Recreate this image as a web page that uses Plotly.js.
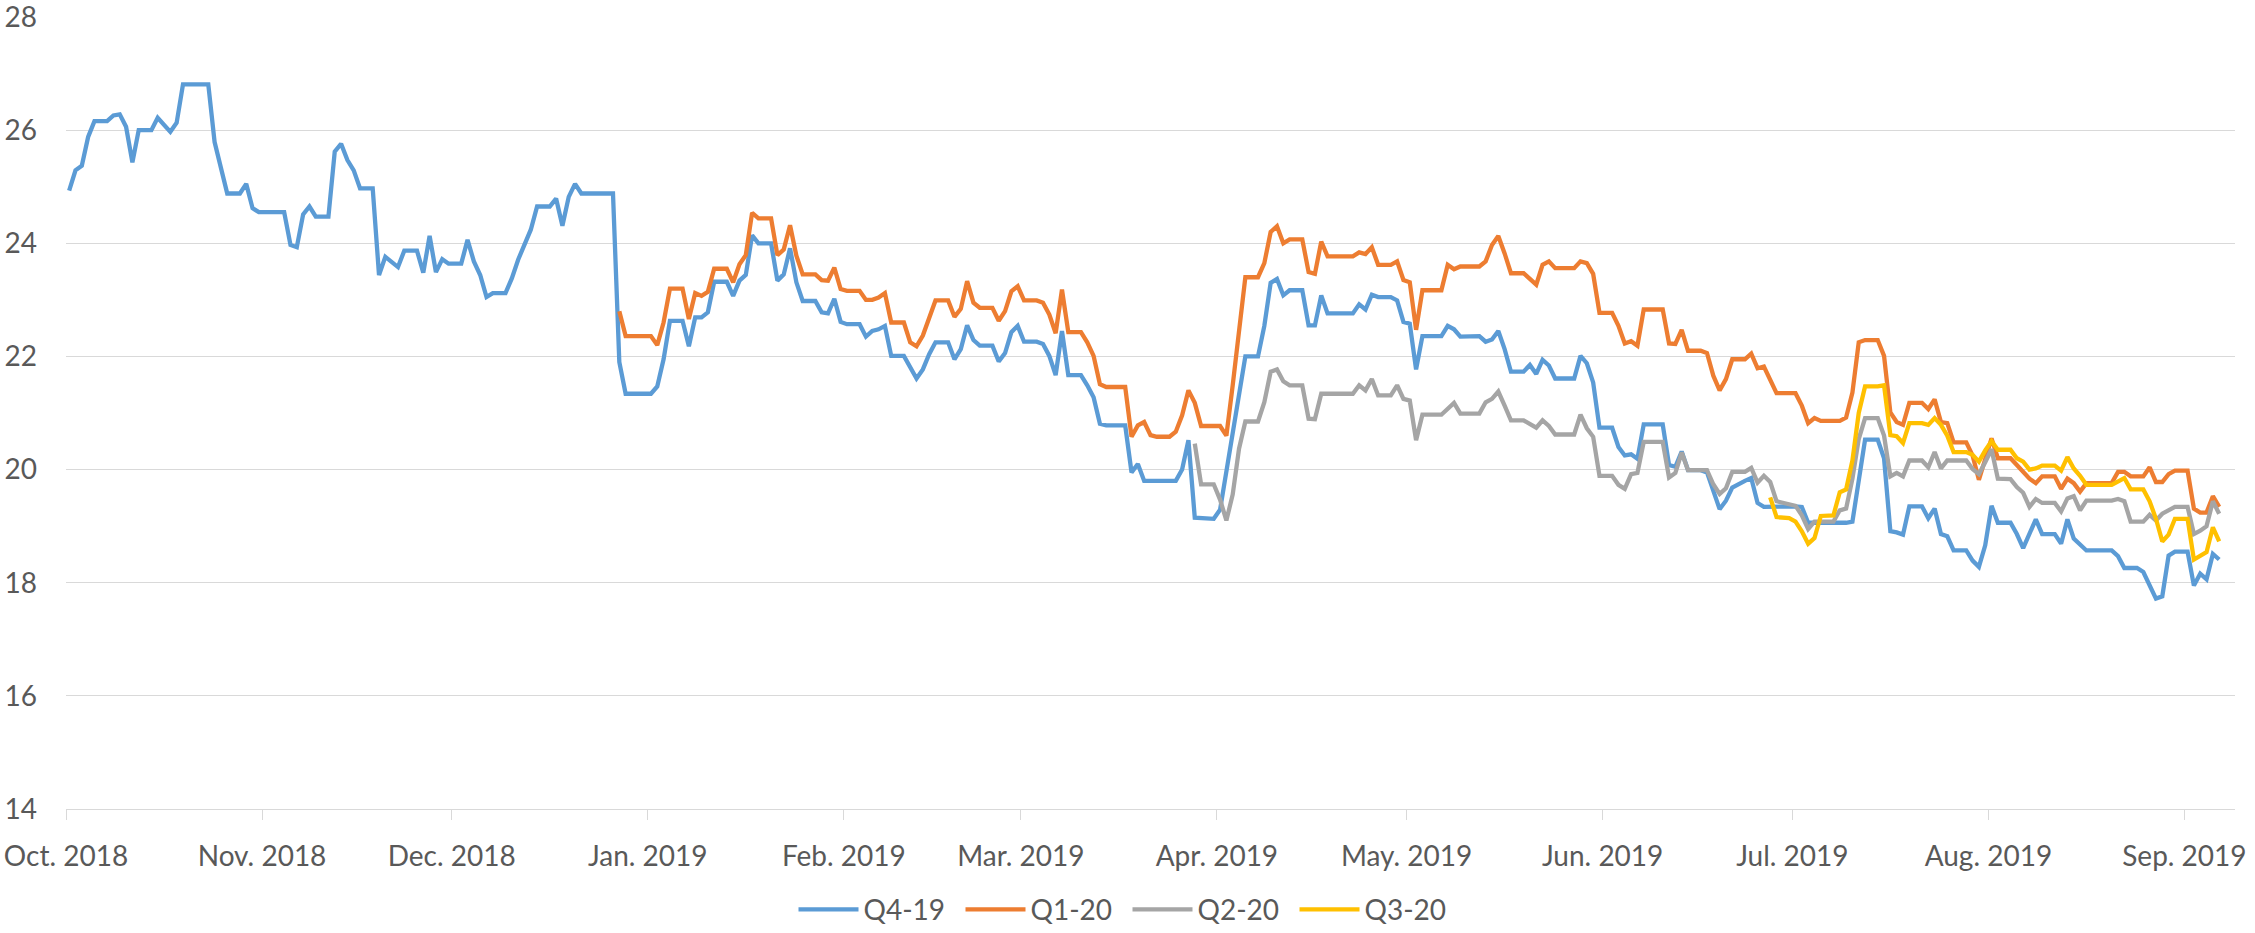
<!DOCTYPE html>
<html>
<head>
<meta charset="utf-8">
<script src="https://cdn.plot.ly/plotly-3.0.1.min.js"></script>
<style>html,body{margin:0;padding:0;background:#fff;}#chart{width:2255px;height:933px;}</style>
</head>
<body>
<div id="chart"></div>
<script>
const seriesNames = ['Q4-19', 'Q1-20', 'Q2-20', 'Q3-20'];

const q4Dates = [
'2018-10-01','2018-10-02','2018-10-03','2018-10-04','2018-10-05','2018-10-07','2018-10-08','2018-10-09','2018-10-10','2018-10-11','2018-10-12','2018-10-14','2018-10-15','2018-10-17','2018-10-18','2018-10-19','2018-10-23','2018-10-24','2018-10-26','2018-10-28','2018-10-29','2018-10-30','2018-10-31',
'2018-11-04','2018-11-05','2018-11-06','2018-11-07','2018-11-08','2018-11-09','2018-11-11','2018-11-12','2018-11-13','2018-11-14','2018-11-15','2018-11-16','2018-11-18','2018-11-19','2018-11-20','2018-11-22','2018-11-23','2018-11-25','2018-11-26','2018-11-27','2018-11-28','2018-11-29','2018-11-30',
'2018-12-02','2018-12-03','2018-12-04','2018-12-05','2018-12-06','2018-12-07','2018-12-09','2018-12-10','2018-12-11','2018-12-12','2018-12-13','2018-12-14','2018-12-16','2018-12-17','2018-12-18','2018-12-19','2018-12-20','2018-12-21','2018-12-26','2018-12-27','2018-12-28',
'2019-01-01','2019-01-02','2019-01-03','2019-01-04','2019-01-06','2019-01-07','2019-01-08','2019-01-09','2019-01-10','2019-01-11','2019-01-13','2019-01-14','2019-01-15','2019-01-16','2019-01-17','2019-01-18','2019-01-20','2019-01-21','2019-01-22','2019-01-23','2019-01-24','2019-01-25','2019-01-27','2019-01-28','2019-01-29','2019-01-30','2019-01-31',
'2019-02-01','2019-02-03','2019-02-04','2019-02-05','2019-02-06','2019-02-07','2019-02-08','2019-02-10','2019-02-11','2019-02-12','2019-02-13','2019-02-14','2019-02-15','2019-02-17','2019-02-18','2019-02-19','2019-02-20','2019-02-21','2019-02-22','2019-02-24','2019-02-25','2019-02-26','2019-02-27','2019-02-28',
'2019-03-01','2019-03-03','2019-03-04','2019-03-05','2019-03-06','2019-03-07','2019-03-08','2019-03-10','2019-03-11','2019-03-12','2019-03-13','2019-03-14','2019-03-17','2019-03-18','2019-03-19','2019-03-20','2019-03-25','2019-03-26','2019-03-27','2019-03-28','2019-03-31',
'2019-04-01','2019-04-05','2019-04-07','2019-04-08','2019-04-09','2019-04-10','2019-04-11','2019-04-12','2019-04-14','2019-04-15','2019-04-16','2019-04-17','2019-04-18','2019-04-22','2019-04-23','2019-04-24','2019-04-25','2019-04-26','2019-04-28','2019-04-29','2019-04-30',
'2019-05-01','2019-05-02','2019-05-03','2019-05-06','2019-05-07','2019-05-08','2019-05-09','2019-05-12','2019-05-13','2019-05-14','2019-05-15','2019-05-16','2019-05-17','2019-05-19','2019-05-20','2019-05-21','2019-05-22','2019-05-23','2019-05-24','2019-05-27','2019-05-28','2019-05-29','2019-05-30','2019-05-31',
'2019-06-02','2019-06-03','2019-06-04','2019-06-05','2019-06-06','2019-06-07','2019-06-10','2019-06-11','2019-06-12','2019-06-13','2019-06-14','2019-06-16','2019-06-17','2019-06-18','2019-06-19','2019-06-20','2019-06-21','2019-06-23','2019-06-24','2019-06-25','2019-06-26',
'2019-07-01','2019-07-02','2019-07-03','2019-07-09','2019-07-10','2019-07-11','2019-07-12','2019-07-14','2019-07-15','2019-07-16','2019-07-17','2019-07-18','2019-07-19','2019-07-21','2019-07-22','2019-07-23','2019-07-24','2019-07-25','2019-07-26','2019-07-28','2019-07-29','2019-07-30','2019-07-31',
'2019-08-01','2019-08-02','2019-08-04','2019-08-05','2019-08-06','2019-08-07','2019-08-08','2019-08-09','2019-08-11','2019-08-12','2019-08-13','2019-08-14','2019-08-15','2019-08-16','2019-08-20','2019-08-21','2019-08-22','2019-08-24','2019-08-25','2019-08-27','2019-08-28','2019-08-29','2019-08-30',
'2019-09-01','2019-09-02','2019-09-03','2019-09-04','2019-09-05','2019-09-06'
];
const q4Values = [
24.93,25.29,25.37,25.88,26.16,26.16,26.26,26.28,26.06,25.43,26.00,26.00,26.22,25.97,26.13,26.81,26.81,25.79,24.88,24.88,25.05,24.62,24.55,
24.55,23.97,23.93,24.51,24.65,24.47,24.47,25.62,25.76,25.47,25.29,24.97,24.97,23.44,23.76,23.58,23.87,23.87,23.48,24.13,23.49,23.72,23.64,
23.64,24.06,23.68,23.44,23.05,23.12,23.12,23.38,23.71,24.00,24.24,24.65,24.65,24.79,24.31,24.82,25.05,24.88,24.88,21.90,21.34,
21.34,21.47,21.95,22.63,22.63,22.18,22.69,22.69,22.78,23.32,23.32,23.07,23.34,23.44,24.14,24.00,24.00,23.34,23.45,23.91,23.31,22.98,22.98,22.78,22.76,23.02,22.61,
22.57,22.57,22.35,22.45,22.48,22.54,22.01,22.01,21.81,21.61,21.77,22.04,22.25,22.25,21.95,22.13,22.55,22.29,22.19,22.19,21.91,22.06,22.43,22.54,
22.26,22.26,22.22,22.01,21.67,22.45,21.67,21.67,21.49,21.28,20.81,20.78,20.78,19.95,20.10,19.80,19.80,20.00,20.52,19.15,19.13,
19.29,22.00,22.00,22.54,23.30,23.37,23.08,23.17,23.17,22.55,22.55,23.08,22.76,22.76,22.92,22.83,23.09,23.05,23.05,22.99,22.61,
22.58,21.77,22.36,22.36,22.54,22.48,22.35,22.36,22.26,22.30,22.45,22.13,21.73,21.73,21.85,21.69,21.94,21.84,21.61,21.61,22.01,21.88,21.54,20.74,
20.74,20.40,20.25,20.27,20.19,20.80,20.80,20.08,20.05,20.32,19.99,19.99,19.95,19.60,19.30,19.45,19.68,19.80,19.85,19.41,19.34,
19.35,19.34,19.06,19.06,19.08,19.78,20.53,20.53,20.20,18.91,18.89,18.85,19.35,19.35,19.14,19.31,18.86,18.82,18.57,18.57,18.39,18.28,18.66,
19.36,19.06,19.06,18.86,18.61,18.85,19.12,18.86,18.86,18.69,19.12,18.78,18.67,18.57,18.57,18.47,18.26,18.26,18.19,17.72,17.76,18.48,18.55,
18.55,17.95,18.16,18.06,18.51,18.41
];

const q1Dates = [
'2018-12-27','2018-12-28',
'2019-01-01','2019-01-02','2019-01-03','2019-01-04','2019-01-06','2019-01-07','2019-01-08','2019-01-09','2019-01-10','2019-01-11','2019-01-13','2019-01-14','2019-01-15','2019-01-16','2019-01-17','2019-01-18','2019-01-20','2019-01-21','2019-01-22','2019-01-23','2019-01-24','2019-01-25','2019-01-27','2019-01-28','2019-01-29','2019-01-30','2019-01-31',
'2019-02-01','2019-02-03','2019-02-04','2019-02-05','2019-02-06','2019-02-07','2019-02-08','2019-02-10','2019-02-11','2019-02-12','2019-02-13','2019-02-15','2019-02-17','2019-02-18','2019-02-19','2019-02-20','2019-02-21','2019-02-22','2019-02-24','2019-02-25','2019-02-26','2019-02-27','2019-02-28',
'2019-03-01','2019-03-03','2019-03-04','2019-03-05','2019-03-06','2019-03-07','2019-03-08','2019-03-10','2019-03-11','2019-03-12','2019-03-13','2019-03-14','2019-03-17','2019-03-18','2019-03-19','2019-03-20','2019-03-21','2019-03-22','2019-03-24','2019-03-25','2019-03-26','2019-03-27','2019-03-28','2019-03-29',
'2019-04-01','2019-04-02','2019-04-03','2019-04-04','2019-04-05','2019-04-07','2019-04-08','2019-04-09','2019-04-10','2019-04-11','2019-04-12','2019-04-14','2019-04-15','2019-04-16','2019-04-17','2019-04-18','2019-04-22','2019-04-23','2019-04-24','2019-04-25','2019-04-26','2019-04-28','2019-04-29','2019-04-30',
'2019-05-01','2019-05-02','2019-05-03','2019-05-06','2019-05-07','2019-05-08','2019-05-09','2019-05-12','2019-05-13','2019-05-14','2019-05-15','2019-05-16','2019-05-17','2019-05-19','2019-05-20','2019-05-21','2019-05-22','2019-05-23','2019-05-24','2019-05-27','2019-05-28','2019-05-29','2019-05-30','2019-05-31',
'2019-06-02','2019-06-03','2019-06-04','2019-06-05','2019-06-06','2019-06-07','2019-06-10','2019-06-11','2019-06-12','2019-06-13','2019-06-14','2019-06-16','2019-06-17','2019-06-18','2019-06-19','2019-06-20','2019-06-21','2019-06-23','2019-06-24','2019-06-25','2019-06-26','2019-06-27','2019-06-28',
'2019-07-01','2019-07-02','2019-07-03','2019-07-04','2019-07-05','2019-07-08','2019-07-09','2019-07-10','2019-07-11','2019-07-12','2019-07-14','2019-07-15','2019-07-16','2019-07-17','2019-07-18','2019-07-19','2019-07-21','2019-07-22','2019-07-23','2019-07-24','2019-07-25','2019-07-26','2019-07-28','2019-07-29','2019-07-30','2019-07-31',
'2019-08-01','2019-08-02','2019-08-04','2019-08-05','2019-08-06','2019-08-07','2019-08-08','2019-08-09','2019-08-11','2019-08-12','2019-08-13','2019-08-14','2019-08-15','2019-08-16','2019-08-20','2019-08-21','2019-08-22','2019-08-23','2019-08-25','2019-08-26','2019-08-27','2019-08-28','2019-08-29','2019-08-30',
'2019-09-01','2019-09-02','2019-09-03','2019-09-04','2019-09-05','2019-09-06'
];
const q1Values = [
22.80,22.36,
22.36,22.20,22.60,23.20,23.20,22.66,23.12,23.07,23.14,23.55,23.55,23.31,23.63,23.79,24.54,24.44,24.44,23.79,23.89,24.32,23.78,23.45,23.45,23.35,23.34,23.57,23.19,
23.16,23.16,23.00,23.00,23.04,23.12,22.60,22.60,22.25,22.18,22.37,22.99,22.99,22.70,22.84,23.33,22.95,22.86,22.86,22.63,22.80,23.15,23.24,
22.99,22.99,22.95,22.74,22.41,23.18,22.43,22.43,22.25,22.01,21.51,21.46,21.46,20.58,20.78,20.84,20.61,20.58,20.58,20.67,20.96,21.40,21.18,20.77,
20.77,20.60,21.49,22.51,23.40,23.40,23.65,24.20,24.30,24.00,24.07,24.07,23.49,23.46,24.03,23.77,23.77,23.84,23.81,23.93,23.62,23.62,23.68,23.35,
23.31,22.47,23.17,23.17,23.62,23.54,23.59,23.59,23.68,23.97,24.13,23.82,23.47,23.47,23.37,23.27,23.62,23.68,23.56,23.56,23.68,23.65,23.46,22.77,
22.77,22.54,22.23,22.27,22.19,22.83,22.83,22.23,22.22,22.47,22.10,22.10,22.06,21.66,21.40,21.60,21.95,21.95,22.05,21.79,21.82,21.60,21.35,
21.35,21.13,20.82,20.91,20.86,20.86,20.92,21.36,22.25,22.29,22.29,22.01,21.01,20.84,20.79,21.18,21.18,21.07,21.24,20.84,20.82,20.48,20.48,20.25,19.82,20.20,
20.55,20.20,20.20,20.08,19.95,19.84,19.76,19.88,19.88,19.66,19.84,19.76,19.61,19.76,19.76,19.96,19.96,19.88,19.88,20.04,19.78,19.78,19.92,19.98,
19.98,19.31,19.24,19.24,19.53,19.34
];

const q2Dates = [
'2019-03-28','2019-03-29','2019-03-31',
'2019-04-01','2019-04-02','2019-04-03','2019-04-04','2019-04-05','2019-04-07','2019-04-08','2019-04-09','2019-04-10','2019-04-11','2019-04-12','2019-04-14','2019-04-15','2019-04-16','2019-04-17','2019-04-22','2019-04-23','2019-04-24','2019-04-25','2019-04-26','2019-04-28','2019-04-29','2019-04-30',
'2019-05-01','2019-05-02','2019-05-03','2019-05-06','2019-05-08','2019-05-09','2019-05-12','2019-05-13','2019-05-14','2019-05-15','2019-05-16','2019-05-17','2019-05-19','2019-05-20','2019-05-21','2019-05-22','2019-05-23','2019-05-24','2019-05-27','2019-05-28','2019-05-29','2019-05-30','2019-05-31',
'2019-06-02','2019-06-03','2019-06-04','2019-06-05','2019-06-06','2019-06-07','2019-06-10','2019-06-11','2019-06-12','2019-06-13','2019-06-14','2019-06-17','2019-06-18','2019-06-19','2019-06-20','2019-06-21','2019-06-23','2019-06-24','2019-06-25','2019-06-26','2019-06-27','2019-06-28',
'2019-07-01','2019-07-02','2019-07-03','2019-07-04','2019-07-07','2019-07-08','2019-07-09','2019-07-10','2019-07-11','2019-07-12','2019-07-14','2019-07-15','2019-07-16','2019-07-17','2019-07-18','2019-07-19','2019-07-21','2019-07-22','2019-07-23','2019-07-24','2019-07-25','2019-07-28','2019-07-29','2019-07-30','2019-07-31',
'2019-08-01','2019-08-02','2019-08-04','2019-08-05','2019-08-06','2019-08-07','2019-08-08','2019-08-09','2019-08-11','2019-08-12','2019-08-13','2019-08-14','2019-08-15','2019-08-16','2019-08-20','2019-08-21','2019-08-22','2019-08-23','2019-08-25','2019-08-26','2019-08-27','2019-08-28','2019-08-29','2019-08-30',
'2019-09-01','2019-09-02','2019-09-03','2019-09-04','2019-09-05','2019-09-06'
];
const q2Values = [
20.46,19.74,19.74,
19.47,19.10,19.56,20.37,20.85,20.85,21.19,21.73,21.77,21.56,21.49,21.49,20.90,20.89,21.34,21.34,21.49,21.40,21.60,21.31,21.31,21.49,21.25,
21.22,20.52,20.97,20.97,21.18,20.99,20.99,21.19,21.25,21.38,21.13,20.87,20.87,20.81,20.74,20.87,20.77,20.62,20.62,20.97,20.73,20.58,19.89,
19.89,19.73,19.66,19.92,19.94,20.49,20.49,19.86,19.94,20.30,19.99,19.99,19.74,19.57,19.67,19.96,19.96,20.03,19.77,19.89,19.78,19.44,
19.36,19.19,18.95,19.08,19.08,19.28,19.31,19.84,20.54,20.91,20.91,20.60,19.88,19.94,19.88,20.16,20.16,20.04,20.31,20.02,20.16,20.16,20.01,19.92,20.13,
20.36,19.84,19.83,19.69,19.59,19.34,19.48,19.41,19.41,19.26,19.49,19.53,19.28,19.45,19.45,19.48,19.44,19.08,19.08,19.20,19.10,19.22,19.29,19.34,
19.34,18.86,18.92,19.00,19.44,19.22
];

const q3Dates = [
'2019-06-27','2019-06-28','2019-06-30',
'2019-07-01','2019-07-02','2019-07-03','2019-07-04','2019-07-05','2019-07-07','2019-07-08','2019-07-09','2019-07-10','2019-07-11','2019-07-12','2019-07-14','2019-07-15','2019-07-16','2019-07-17','2019-07-18','2019-07-19','2019-07-21','2019-07-22','2019-07-23','2019-07-24','2019-07-25','2019-07-26','2019-07-28','2019-07-29','2019-07-30','2019-07-31',
'2019-08-01','2019-08-02','2019-08-04','2019-08-05','2019-08-06','2019-08-07','2019-08-08','2019-08-09','2019-08-11','2019-08-12','2019-08-13','2019-08-14','2019-08-15','2019-08-16','2019-08-20','2019-08-21','2019-08-22','2019-08-23','2019-08-25','2019-08-26','2019-08-27','2019-08-28','2019-08-29','2019-08-30',
'2019-09-01','2019-09-02','2019-09-03','2019-09-04','2019-09-05','2019-09-06'
];
const q3Values = [
19.51,19.16,19.14,
19.08,18.91,18.69,18.79,19.18,19.19,19.60,19.65,20.16,21.00,21.47,21.47,21.49,20.61,20.59,20.47,20.82,20.82,20.79,20.91,20.79,20.60,20.31,20.31,20.26,20.14,20.34,
20.50,20.35,20.35,20.20,20.14,20.00,20.02,20.07,20.07,19.98,20.22,20.02,19.89,19.73,19.73,19.79,19.85,19.65,19.65,19.44,19.13,18.73,18.85,19.13,
19.13,18.41,18.47,18.54,18.98,18.73
];

const yTicks = [14, 16, 18, 20, 22, 24, 26, 28];
const colors = ['#5B9BD5', '#ED7D31', '#A5A5A5', '#FFC000'];

const font = 'Lato, "Open Sans", sans-serif';
const allDates = [q4Dates, q1Dates, q2Dates, q3Dates];
const allValues = [q4Values, q1Values, q2Values, q3Values];

const traces = seriesNames.map((name, i) => ({
  type: 'scatter',
  mode: 'lines',
  name: name,
  x: allDates[i].map(d => d + ' 12:00'),
  y: allValues[i],
  line: { color: colors[i], width: 4.3, shape: 'linear' },
  hoverinfo: 'x+y+name'
}));

const layout = {
  width: 2255,
  height: 933,
  margin: { l: 66, r: 20, t: 17, b: 124 },
  paper_bgcolor: '#ffffff',
  plot_bgcolor: '#ffffff',
  showlegend: true,
  xaxis: {
    type: 'date',
    range: ['2018-10-01', '2019-09-09'],
    tick0: '2018-10-01',
    dtick: 'M1',
    tickformat: '%b. %Y',
    ticks: 'outside',
    ticklen: 10,
    tickwidth: 1,
    tickcolor: '#d9d9d9',
    showgrid: false,
    showline: true,
    linecolor: '#d9d9d9',
    linewidth: 1,
    zeroline: false,
    ticklabelstandoff: 12,
    ticklabeloverflow: 'allow',
    tickfont: { family: font, size: 28, color: '#595959' }
  },
  yaxis: {
    range: [14, 28.0001],
    tickvals: yTicks,
    ticktext: yTicks.map(String),
    showgrid: true,
    gridcolor: '#d9d9d9',
    gridwidth: 1,
    zeroline: false,
    showline: false,
    ticks: '',
    ticklabelstandoff: 28,
    ticklabeloverflow: 'allow',
    tickfont: { family: font, size: 28, color: '#595959' }
  },
  legend: {
    orientation: 'h',
    xref: 'container',
    yref: 'container',
    x: 0.5,
    xanchor: 'center',
    y: 0.025,
    yanchor: 'middle',
    itemwidth: 60,
    entrywidth: 92,
    entrywidthmode: 'pixels',
    font: { family: font, size: 28, color: '#595959' },
    bgcolor: 'rgba(0,0,0,0)'
  }
};

Plotly.newPlot('chart', traces, layout, { displayModeBar: false, staticPlot: true });
</script>
</body>
</html>
